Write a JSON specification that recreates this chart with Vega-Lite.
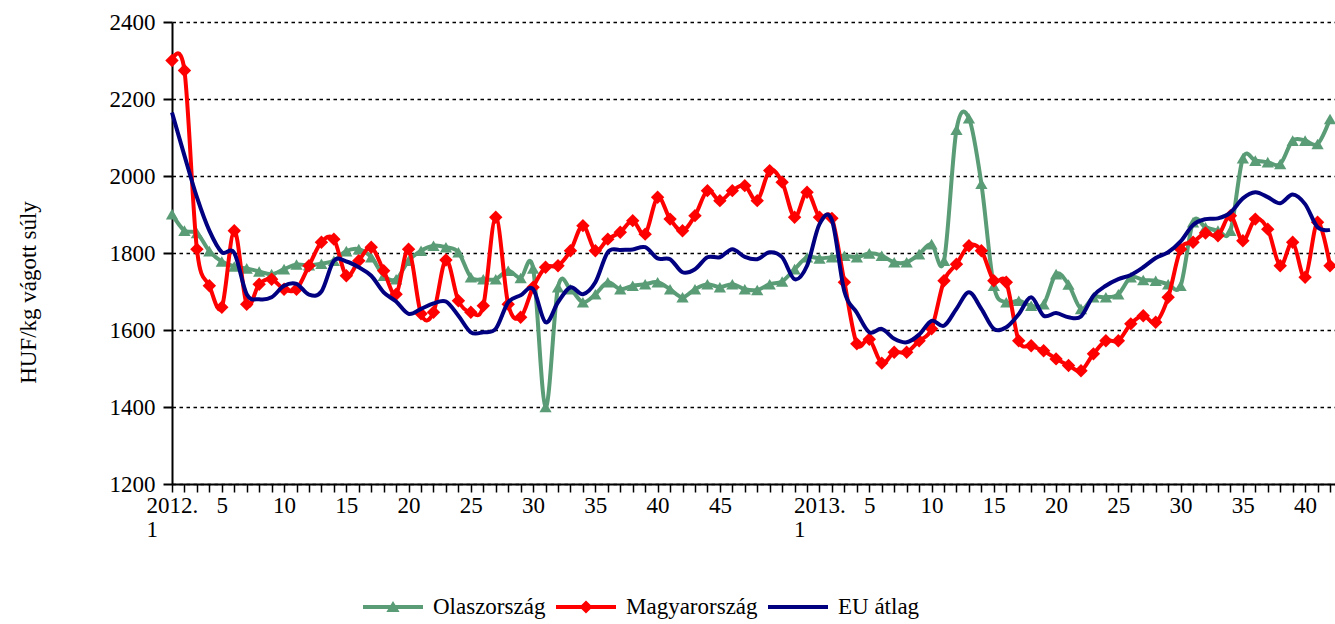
{
  "$schema": "https://vega.github.io/schema/vega-lite/v6.json",
  "width": 1163,
  "height": 462,
  "autosize": {"type": "none"},
  "padding": {"left": 172, "top": 22, "right": 0, "bottom": 140},
  "background": "white",
  "config": {
    "font": "Liberation Serif",
    "view": {"stroke": null},
    "axis": {"domainColor": "black", "domainWidth": 2, "tickColor": "black", "labelColor": "black", "titleColor": "black", "labelFontSize": 23, "titleFontSize": 23, "titleFontWeight": "normal", "labelFont": "Liberation Serif", "titleFont": "Liberation Serif"}
  },
  "data": {"values": [
    {"i":0,"Olaszország":1901,"Magyarország":2300,"EU átlag":2165},
    {"i":1,"Olaszország":1858,"Magyarország":2274,"EU átlag":2053},
    {"i":2,"Olaszország":1852,"Magyarország":1810,"EU átlag":1945},
    {"i":3,"Olaszország":1805,"Magyarország":1715,"EU átlag":1858},
    {"i":4,"Olaszország":1778,"Magyarország":1659,"EU átlag":1802},
    {"i":5,"Olaszország":1765,"Magyarország":1858,"EU átlag":1800},
    {"i":6,"Olaszország":1760,"Magyarország":1667,"EU átlag":1693},
    {"i":7,"Olaszország":1752,"Magyarország":1719,"EU átlag":1680},
    {"i":8,"Olaszország":1745,"Magyarország":1732,"EU átlag":1685},
    {"i":9,"Olaszország":1758,"Magyarország":1706,"EU átlag":1715},
    {"i":10,"Olaszország":1770,"Magyarország":1706,"EU átlag":1720},
    {"i":11,"Olaszország":1768,"Magyarország":1767,"EU átlag":1692},
    {"i":12,"Olaszország":1772,"Magyarország":1828,"EU átlag":1700},
    {"i":13,"Olaszország":1780,"Magyarország":1836,"EU átlag":1780},
    {"i":14,"Olaszország":1805,"Magyarország":1741,"EU átlag":1778},
    {"i":15,"Olaszország":1810,"Magyarország":1780,"EU átlag":1763},
    {"i":16,"Olaszország":1789,"Magyarország":1815,"EU átlag":1741},
    {"i":17,"Olaszország":1741,"Magyarország":1754,"EU átlag":1698},
    {"i":18,"Olaszország":1732,"Magyarország":1693,"EU átlag":1674},
    {"i":19,"Olaszország":1780,"Magyarország":1810,"EU átlag":1642},
    {"i":20,"Olaszország":1806,"Magyarország":1642,"EU átlag":1655},
    {"i":21,"Olaszország":1819,"Magyarország":1646,"EU átlag":1669},
    {"i":22,"Olaszország":1815,"Magyarország":1782,"EU átlag":1674},
    {"i":23,"Olaszország":1802,"Magyarország":1676,"EU átlag":1637},
    {"i":24,"Olaszország":1737,"Magyarország":1646,"EU átlag":1594},
    {"i":25,"Olaszország":1732,"Magyarország":1663,"EU átlag":1594},
    {"i":26,"Olaszország":1732,"Magyarország":1893,"EU átlag":1603},
    {"i":27,"Olaszország":1754,"Magyarország":1667,"EU átlag":1672},
    {"i":28,"Olaszország":1735,"Magyarország":1633,"EU átlag":1690},
    {"i":29,"Olaszország":1760,"Magyarország":1711,"EU átlag":1706},
    {"i":30,"Olaszország":1400,"Magyarország":1763,"EU átlag":1620},
    {"i":31,"Olaszország":1711,"Magyarország":1767,"EU átlag":1672},
    {"i":32,"Olaszország":1706,"Magyarország":1806,"EU átlag":1711},
    {"i":33,"Olaszország":1672,"Magyarország":1871,"EU átlag":1693},
    {"i":34,"Olaszország":1693,"Magyarország":1806,"EU átlag":1724},
    {"i":35,"Olaszország":1724,"Magyarország":1836,"EU átlag":1802},
    {"i":36,"Olaszország":1706,"Magyarország":1854,"EU átlag":1808},
    {"i":37,"Olaszország":1715,"Magyarország":1884,"EU átlag":1809},
    {"i":38,"Olaszország":1719,"Magyarország":1849,"EU átlag":1815},
    {"i":39,"Olaszország":1724,"Magyarország":1945,"EU átlag":1786},
    {"i":40,"Olaszország":1706,"Magyarország":1888,"EU átlag":1784},
    {"i":41,"Olaszország":1685,"Magyarország":1858,"EU átlag":1750},
    {"i":42,"Olaszország":1706,"Magyarország":1897,"EU átlag":1758},
    {"i":43,"Olaszország":1719,"Magyarország":1962,"EU átlag":1789},
    {"i":44,"Olaszország":1711,"Magyarország":1936,"EU átlag":1789},
    {"i":45,"Olaszország":1719,"Magyarország":1962,"EU átlag":1810},
    {"i":46,"Olaszország":1706,"Magyarország":1975,"EU átlag":1790},
    {"i":47,"Olaszország":1704,"Magyarország":1936,"EU átlag":1784},
    {"i":48,"Olaszország":1719,"Magyarország":2014,"EU átlag":1802},
    {"i":49,"Olaszország":1726,"Magyarország":1984,"EU átlag":1789},
    {"i":50,"Olaszország":1758,"Magyarország":1893,"EU átlag":1732},
    {"i":51,"Olaszország":1789,"Magyarország":1958,"EU átlag":1767},
    {"i":52,"Olaszország":1786,"Magyarország":1893,"EU átlag":1875},
    {"i":53,"Olaszország":1789,"Magyarország":1890,"EU átlag":1885},
    {"i":54,"Olaszország":1793,"Magyarország":1724,"EU átlag":1700},
    {"i":55,"Olaszország":1789,"Magyarország":1564,"EU átlag":1645},
    {"i":56,"Olaszország":1799,"Magyarország":1576,"EU átlag":1594},
    {"i":57,"Olaszország":1793,"Magyarország":1514,"EU átlag":1603},
    {"i":58,"Olaszország":1776,"Magyarország":1542,"EU átlag":1577},
    {"i":59,"Olaszország":1776,"Magyarország":1542,"EU átlag":1568},
    {"i":60,"Olaszország":1797,"Magyarország":1572,"EU átlag":1588},
    {"i":61,"Olaszország":1823,"Magyarország":1603,"EU átlag":1624},
    {"i":62,"Olaszország":1780,"Magyarország":1728,"EU átlag":1611},
    {"i":63,"Olaszország":2120,"Magyarország":1771,"EU átlag":1655},
    {"i":64,"Olaszország":2150,"Magyarország":1819,"EU átlag":1698},
    {"i":65,"Olaszország":1980,"Magyarország":1806,"EU átlag":1655},
    {"i":66,"Olaszország":1715,"Magyarország":1728,"EU átlag":1603},
    {"i":67,"Olaszország":1672,"Magyarország":1724,"EU átlag":1607},
    {"i":68,"Olaszország":1676,"Magyarország":1572,"EU átlag":1641},
    {"i":69,"Olaszország":1663,"Magyarország":1559,"EU átlag":1685},
    {"i":70,"Olaszország":1667,"Magyarország":1546,"EU átlag":1637},
    {"i":71,"Olaszország":1745,"Magyarország":1525,"EU átlag":1644},
    {"i":72,"Olaszország":1718,"Magyarország":1508,"EU átlag":1633},
    {"i":73,"Olaszország":1655,"Magyarország":1494,"EU átlag":1635},
    {"i":74,"Olaszország":1685,"Magyarország":1538,"EU átlag":1689},
    {"i":75,"Olaszország":1685,"Magyarország":1572,"EU átlag":1715},
    {"i":76,"Olaszország":1693,"Magyarország":1572,"EU átlag":1732},
    {"i":77,"Olaszország":1737,"Magyarország":1616,"EU átlag":1743},
    {"i":78,"Olaszország":1730,"Magyarország":1637,"EU átlag":1763},
    {"i":79,"Olaszország":1728,"Magyarország":1620,"EU átlag":1787},
    {"i":80,"Olaszország":1719,"Magyarország":1685,"EU átlag":1802},
    {"i":81,"Olaszország":1715,"Magyarország":1810,"EU átlag":1830},
    {"i":82,"Olaszország":1880,"Magyarország":1828,"EU átlag":1873},
    {"i":83,"Olaszország":1867,"Magyarország":1852,"EU átlag":1888},
    {"i":84,"Olaszország":1858,"Magyarország":1845,"EU átlag":1890},
    {"i":85,"Olaszország":1858,"Magyarország":1897,"EU átlag":1905},
    {"i":86,"Olaszország":2046,"Magyarország":1832,"EU átlag":1942},
    {"i":87,"Olaszország":2040,"Magyarország":1888,"EU átlag":1958},
    {"i":88,"Olaszország":2036,"Magyarország":1862,"EU átlag":1945},
    {"i":89,"Olaszország":2031,"Magyarország":1767,"EU átlag":1929},
    {"i":90,"Olaszország":2092,"Magyarország":1828,"EU átlag":1952},
    {"i":91,"Olaszország":2092,"Magyarország":1737,"EU átlag":1927},
    {"i":92,"Olaszország":2083,"Magyarország":1880,"EU átlag":1867},
    {"i":93,"Olaszország":2148,"Magyarország":1767,"EU átlag":1860}
  ]},
  "transform": [{"fold": ["Olaszország", "Magyarország", "EU átlag"], "as": ["s", "v"]}],
  "encoding": {
    "x": {
      "field": "i", "type": "quantitative",
      "scale": {"domain": [0, 93.4], "nice": false, "zero": false},
      "axis": {
        "values": [0,1,2,3,4,5,6,7,8,9,10,11,12,13,14,15,16,17,18,19,20,21,22,23,24,25,26,27,28,29,30,31,32,33,34,35,36,37,38,39,40,41,42,43,44,45,46,47,48,49,50,51,52,53,54,55,56,57,58,59,60,61,62,63,64,65,66,67,68,69,70,71,72,73,74,75,76,77,78,79,80,81,82,83,84,85,86,87,88,89,90,91,92,93],
        "labelExpr": "datum.value === 0 ? ['2012.', '1'] : datum.value === 52 ? ['2013.', '1'] : datum.value < 49 ? ((datum.value + 1) % 5 === 0 ? '' + (datum.value + 1) : '') : datum.value > 52 ? ((datum.value - 51) % 5 === 0 ? '' + (datum.value - 51) : '') : ''",
        "labelAlign": {"condition": {"test": "datum.value === 0 || datum.value === 52", "value": "left"}, "value": "center"},
        "labelOffset": {"condition": {"test": "datum.value === 0 || datum.value === 52", "value": -26}, "value": 0},
        "labelFlush": false, "labelOverlap": false, "labelBound": false,
        "grid": false, "tickSize": 8, "tickWidth": 1.5,
        "labelPadding": 2, "labelLineHeight": 24, "labelBaseline": "top",
        "title": null
      }
    },
    "y": {
      "field": "v", "type": "quantitative",
      "scale": {"domain": [1200, 2400], "nice": false, "zero": false},
      "axis": {
        "values": [1200, 1400, 1600, 1800, 2000, 2200, 2400],
        "format": "d",
        "grid": true, "gridColor": "black", "gridDash": [3.5, 3.5], "gridWidth": 1.5,
        "tickSize": 9, "tickWidth": 2, "labelPadding": 8,
        "title": "HUF/kg vágott súly",
        "titleX": -144, "titleY": 270, "titleAngle": -90,
        "titleAlign": "center", "titleBaseline": "middle"
      }
    },
    "color": {
      "field": "s", "type": "nominal",
      "scale": {"domain": ["Olaszország", "Magyarország", "EU átlag"], "range": ["#5A9C76", "#FF0000", "#000080"]},
      "legend": {
        "orient": "none", "legendX": 191, "legendY": 573,
        "direction": "horizontal", "columns": 3,
        "title": null, "padding": 0,
        "labelFont": "Liberation Serif", "labelFontSize": 23, "labelColor": "black",
        "symbolSize": 576, "symbolStrokeWidth": 0, "labelOffset": 46, "columnPadding": 10,
        "symbolType": "square",
        "encode": {
          "symbols": {
            "update": {
              "shape": {"signal": "datum.value === 'Olaszország' ? 'M-1,-0.16H4V0.16H-1Z M1.5,-0.5L2.05,0.42H0.95Z' : datum.value === 'Magyarország' ? 'M-1,-0.16H4V0.16H-1Z M1.5,-0.55L2.05,0L1.5,0.55L0.95,0Z' : 'M-1,-0.17H4V0.17H-1Z'"},
              "fill": {"signal": "scale('color', datum.value)"},
              "stroke": {"value": "transparent"},
              "strokeWidth": {"value": 0},
              "opacity": {"value": 1},
              "size": {"value": 576}
            }
          }
        }
      }
    }
  },
  "layer": [
    {"transform": [{"filter": "datum.s === 'Olaszország'"}], "mark": {"type": "line", "interpolate": "cardinal", "strokeWidth": 4}},
    {"transform": [{"filter": "datum.s === 'Olaszország'"}], "mark": {"type": "point", "shape": "triangle-up", "filled": true, "size": 150, "opacity": 1}},
    {"transform": [{"filter": "datum.s === 'Magyarország'"}], "mark": {"type": "line", "interpolate": "cardinal", "strokeWidth": 4}},
    {"transform": [{"filter": "datum.s === 'Magyarország'"}], "mark": {"type": "point", "shape": "diamond", "filled": true, "size": 180, "opacity": 1}},
    {"transform": [{"filter": "datum.s === 'EU átlag'"}], "mark": {"type": "line", "interpolate": "cardinal", "strokeWidth": 4}}
  ]
}
